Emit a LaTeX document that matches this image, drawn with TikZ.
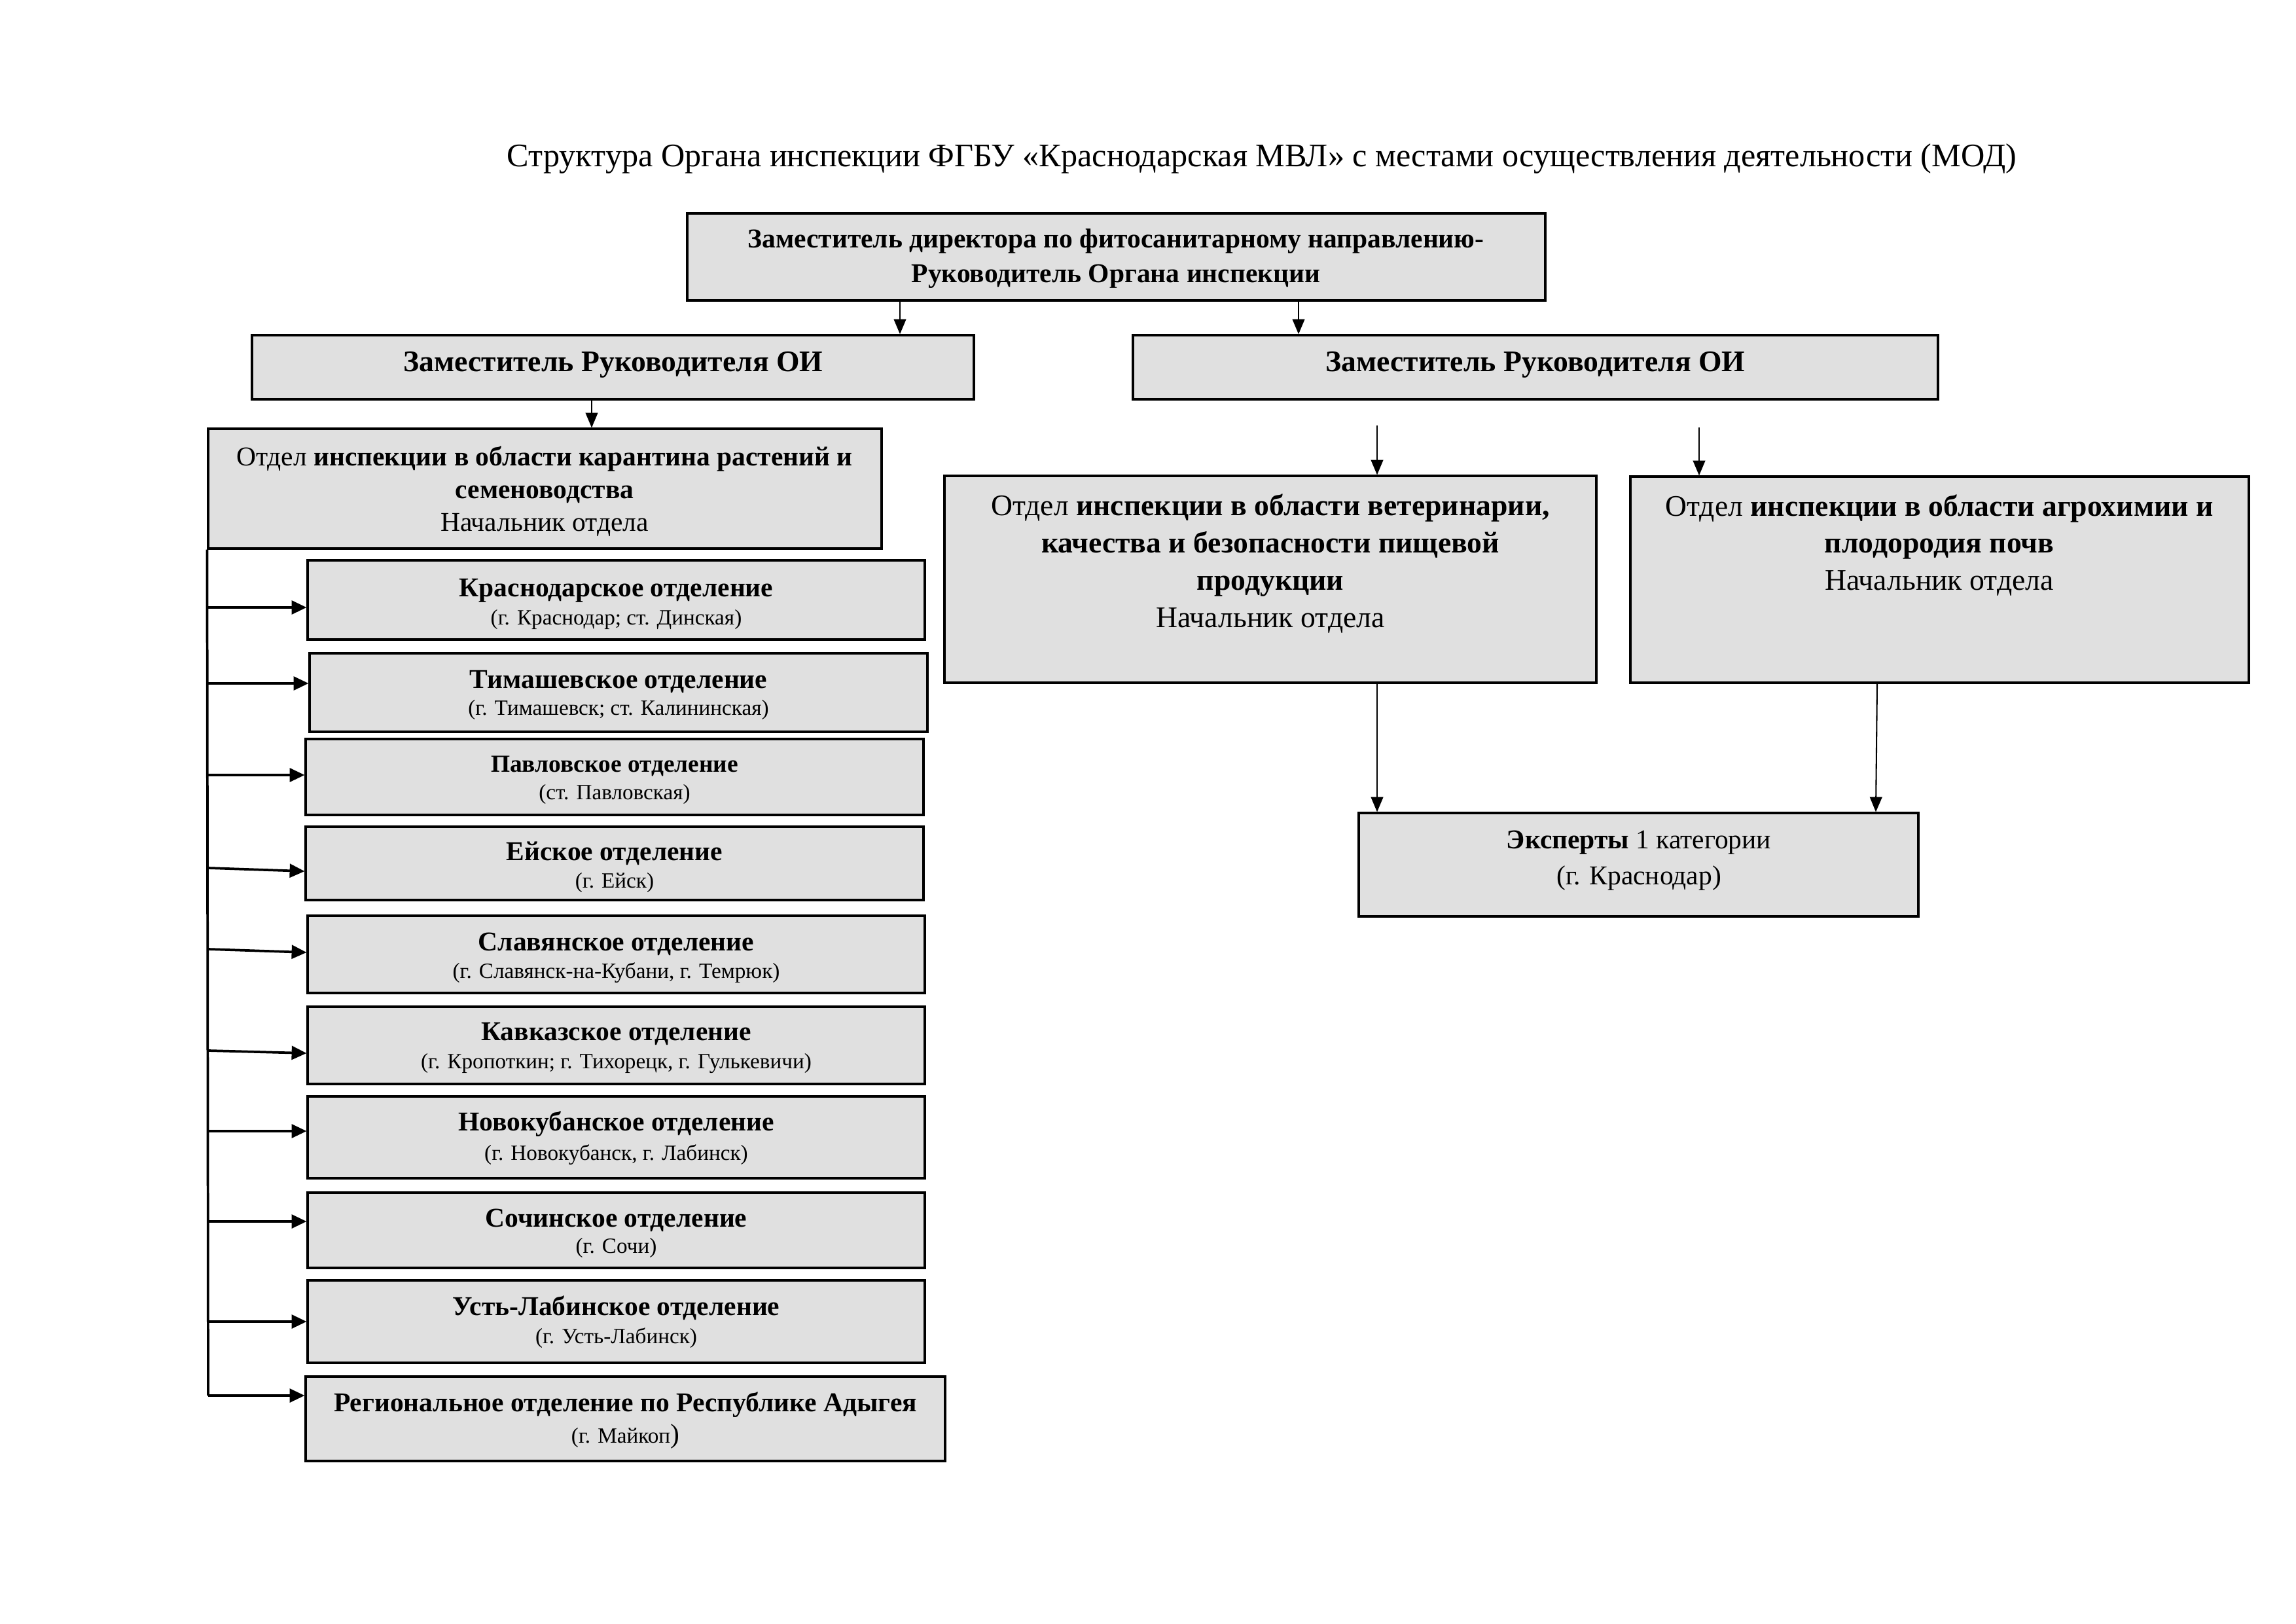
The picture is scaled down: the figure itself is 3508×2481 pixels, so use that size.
\documentclass[tikz,border=0pt]{standalone}
\usepackage{fontspec}
\setmainfont{Liberation Serif}
\usetikzlibrary{arrows.meta,fit}
\definecolor{boxfill}{RGB}{224,224,224}
\newcommand\subbox[9]{%
  \node[box, fit={(#2,#3) (#4,#5)}] (#1) {};
  \node[head] (#1h) at ({(#2+#4)/2},#8) {#6};
  \node[loc] (#1l) at ({(#2+#4)/2},#9) {#7};
}
\begin{document}
\begin{tikzpicture}[x=0.08466mm,y=-0.08466mm,
  box/.style={draw=black, line width=0.75pt, fill=boxfill, rectangle, inner sep=0pt},
  txt/.style={align=center, inner sep=0pt},
  head/.style={inner sep=0pt, font=\fontsize{10}{12}\selectfont\bfseries, text height=0.7em, text depth=0.25em},
  loc/.style={inner sep=0pt, font=\fontsize{8}{9}\selectfont, text height=0.7em, text depth=0.25em},
  arr/.style={-{Triangle[length=5.5pt,width=4.5pt]}, line width=0.5pt},
  brarr/.style={-{Triangle[length=5.5pt,width=5pt]}, line width=0.9pt},
]
\useasboundingbox (0,0) rectangle (3508,2481);

% title
\node[txt, font=\fontsize{12.1}{14}\selectfont] (title) at (1928,242)
  {Структура Органа инспекции ФГБУ «Краснодарская МВЛ» с местами осуществления деятельности (МОД)};

% top level
\node[box, fit={(1050,326) (2361,459)}] (top) {};
\node[txt, font=\fontsize{10}{12.8}\selectfont\bfseries] (topT) at (1705,395)
  {Заместитель директора по фитосанитарному направлению-\\Руководитель Органа инспекции};

\node[box, fit={(385,512) (1488,610)}] (depL) {};
\node[txt, font=\fontsize{11}{13}\selectfont\bfseries, text height=0.7em, text depth=0.25em] (depLT) at (937,558) {Заместитель Руководителя ОИ};
\node[box, fit={(1731,512) (2961,610)}] (depR) {};
\node[txt, font=\fontsize{11}{13}\selectfont\bfseries, text height=0.7em, text depth=0.25em] (depRT) at (2346,558) {Заместитель Руководителя ОИ};

% departments
\node[box, fit={(318,655) (1347,838)}] (dept) {};
\node[txt, font=\fontsize{10}{12.05}\selectfont] (deptT) at (832,751)
  {Отдел \textbf{инспекции в области карантина растений и}\\\textbf{семеноводства}\\Начальник отдела};

\node[box, fit={(1443,727) (2439,1043)}] (vet) {};
\node[txt, font=\fontsize{11}{13.7}\selectfont] (vetT) at (1941,861)
  {Отдел \textbf{инспекции в области ветеринарии,}\\\textbf{качества и безопасности пищевой}\\\textbf{продукции}\\Начальник отдела};

\node[box, fit={(2491,728) (3436,1043)}] (agro) {};
\node[txt, font=\fontsize{11}{13.7}\selectfont] (agroT) at (2963,833)
  {Отдел \textbf{инспекции в области агрохимии и}\\\textbf{плодородия почв}\\Начальник отдела};

\node[box, fit={(2076,1242) (2931,1400)}] (exp) {};
\node[txt, font=\fontsize{10}{13.2}\selectfont] (expT) at (2504,1315)
  {\textbf{Эксперты} 1 категории\\(г. Краснодар)};

% sub-offices
\subbox{kras}{470}{856}{1413}{977}{Краснодарское отделение}{(г. Краснодар; ст. Динская)}{902}{945}
\subbox{tim}{473}{998}{1417}{1118}{Тимашевское отделение}{(г. Тимашевск; ст. Калининская)}{1042}{1083}
\subbox{pav}{467}{1129}{1411}{1245}{\fontsize{9}{11}\selectfont Павловское отделение}{(ст. Павловская)}{1170}{1212}
\subbox{eys}{467}{1263}{1411}{1375}{Ейское отделение}{(г. Ейск)}{1305}{1347}
\subbox{sla}{470}{1399}{1413}{1517}{Славянское отделение}{(г. Славянск-на-Кубани, г. Темрюк)}{1443}{1485}
\subbox{kav}{470}{1538}{1413}{1656}{Кавказское отделение}{(г. Кропоткин; г. Тихорецк, г. Гулькевичи)}{1580}{1623}
\subbox{nov}{470}{1675}{1413}{1800}{Новокубанское отделение}{(г. Новокубанск, г. Лабинск)}{1718}{1763}
\subbox{soc}{470}{1822}{1413}{1937}{Сочинское отделение}{(г. Сочи)}{1865}{1905}
\subbox{ust}{470}{1956}{1413}{2082}{Усть-Лабинское отделение}{(г. Усть-Лабинск)}{2000}{2043}
\subbox{ady}{467}{2103}{1444}{2232}{Региональное отделение по Республике Адыгея}{(г. Майкоп{\fontsize{10}{11}\selectfont)}}{2147}{2195}

% connectors top
\draw[arr] (1375,0 |- top.south) -- (1375,0 |- depL.north);
\draw[arr] (1984,0 |- top.south) -- (1984,0 |- depR.north);
\draw[arr] (904,0 |- depL.south) -- (904,0 |- dept.north);

\coordinate (fa) at (2104,650);
\coordinate (fb) at (2596,653);
\draw[arr] (fa) -- (fa |- vet.north);
\draw[arr] (fb) -- (fb |- agro.north);
\draw[arr] (2104,0 |- vet.south) -- (2104,0 |- exp.north);
\draw[arr] (2868,0 |- agro.south) -- (2866,0 |- exp.north);

% left trunk
\coordinate (vEnd) at (318,2132);
\draw[line width=0.9pt] (dept.south west) -- (vEnd);
\coordinate (bKr) at (318,928);
\coordinate (bTi) at (318,1044);
\coordinate (bPa) at (318,1184);
\coordinate (bEy) at (318,1326);
\coordinate (bSl) at (318,1450);
\coordinate (bKa) at (318,1605);
\coordinate (bNo) at (318,1728);
\coordinate (bSo) at (318,1866);
\coordinate (bUs) at (318,2019);
\draw[brarr] (bKr) -- (bKr -| kras.west);
\draw[brarr] (bTi) -- (bTi -| tim.west);
\draw[brarr] (bPa) -- (bPa -| pav.west);
\draw[brarr] (bEy) -- (eys.west |- 0,1331);
\draw[brarr] (bSl) -- (sla.west |- 0,1455);
\draw[brarr] (bKa) -- (kav.west |- 0,1609);
\draw[brarr] (bNo) -- (bNo -| nov.west);
\draw[brarr] (bSo) -- (bSo -| soc.west);
\draw[brarr] (bUs) -- (bUs -| ust.west);
\draw[brarr] (vEnd) -- (vEnd -| ady.west);
\end{tikzpicture}
\end{document}
